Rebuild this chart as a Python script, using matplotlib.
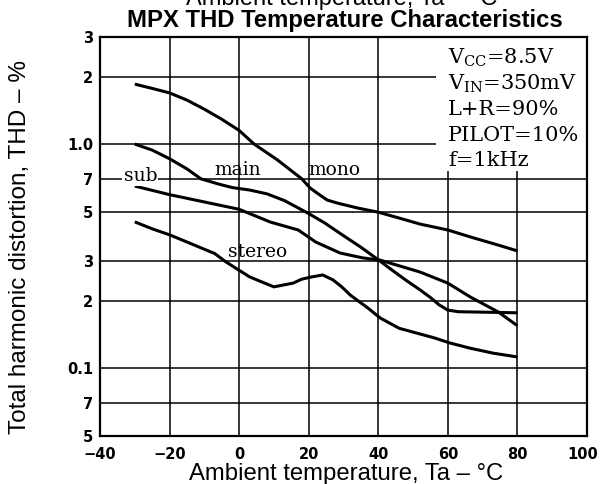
import matplotlib
matplotlib.use("Agg")
import matplotlib.pyplot as plt
from matplotlib.ticker import FixedLocator, NullLocator
from matplotlib.patches import Rectangle
from matplotlib.transforms import ScaledTranslation

plt.rcParams['mathtext.fontset'] = 'dejavuserif'

# THD (%) versus ambient temperature (°C) for each decoder mode
mono_t = [-30, -25, -20, -15, -10, -5, 0, 4.3, 11, 18, 20.4, 22.4, 25.3, 28.2, 34, 40, 46, 52, 60, 66.6, 74.4, 80]
mono_thd = [1.85, 1.77, 1.69, 1.57, 1.43, 1.29, 1.15, 1.0, 0.85, 0.70, 0.637, 0.605, 0.563, 0.546, 0.519, 0.497, 0.468, 0.44, 0.414, 0.385, 0.355, 0.334]

main_t = [-30, -25, -20, -15, -11, -6, -2, 3, 8, 13, 16.5, 20, 24.6, 29, 35, 40, 44, 48, 52, 55, 57.5, 60, 63, 80]
main_thd = [1.0, 0.94, 0.86, 0.775, 0.70, 0.664, 0.64, 0.624, 0.60, 0.56, 0.524, 0.49, 0.445, 0.40, 0.347, 0.305, 0.274, 0.247, 0.224, 0.207, 0.192, 0.182, 0.179, 0.177]

sub_t = [-30, -20, -10, 0, 9, 17, 22, 29, 35.5, 40.5, 52, 60, 66.5, 74.5, 80]
sub_thd = [0.65, 0.595, 0.552, 0.512, 0.449, 0.414, 0.366, 0.327, 0.311, 0.304, 0.269, 0.240, 0.208, 0.1785, 0.155]

stereo_t = [-30, -25, -20, -15, -7, -4, -1, 3, 6.5, 10, 15.5, 18, 21, 24, 27, 29.5, 32, 37, 40.5, 46, 56, 60.5, 66.5, 73, 80]
stereo_thd = [0.45, 0.419, 0.394, 0.366, 0.325, 0.30, 0.28, 0.256, 0.243, 0.231, 0.240, 0.25, 0.256, 0.261, 0.248, 0.231, 0.212, 0.186, 0.168, 0.151, 0.137, 0.130, 0.123, 0.117, 0.1125]

x_ticks = [-40, -20, 0, 20, 40, 60, 80, 100]
x_tick_labels = ['\u221240', '\u221220', '0', '20', '40', '60', '80', '100']
y_ticks = [0.05, 0.07, 0.1, 0.2, 0.3, 0.5, 0.7, 1.0, 2.0, 3.0]
y_tick_labels = ['5', '7', '0.1', '2', '3', '5', '7', '1.0', '2', '3']

conditions = ['V$_{\\mathrm{CC}}$=8.5V', 'V$_{\\mathrm{IN}}$=350mV', 'L+R=90%',
              'PILOT=10%', 'f=1kHz']

W, H = 601, 484
fig = plt.figure(figsize=(W / 100, H / 100), dpi=100)
ax = fig.add_axes([100 / W, 1 - 436 / H, 487 / W, 399 / H])

ax.set_yscale('log')
ax.set_xlim(-40, 100)
ax.set_ylim(0.05, 3.0)

ax.xaxis.set_major_locator(FixedLocator(x_ticks))
ax.set_xticklabels(x_tick_labels)
ax.yaxis.set_major_locator(FixedLocator(y_ticks))
ax.yaxis.set_minor_locator(NullLocator())
ax.set_yticklabels(y_tick_labels)

for lbl in ax.get_xticklabels() + ax.get_yticklabels():
    lbl.set_fontfamily('DejaVu Sans')
    lbl.set_fontweight('bold')
    lbl.set_fontsize(10.5)
ax.tick_params(axis='x', length=0, pad=8)
ax.tick_params(axis='y', length=0, pad=5)
# keep the last temperature label inside the canvas
last = ax.get_xticklabels()[-1]
last.set_transform(last.get_transform() + ScaledTranslation(-4 / 100, 0, fig.dpi_scale_trans))

ax.grid(True, color='black', linewidth=1.1)
ax.set_axisbelow(True)
for s in ax.spines.values():
    s.set_linewidth(1.6)

# blank panel behind the test conditions
ax.add_patch(Rectangle((56.5, 0.76), 43.5, 2.24, facecolor='white',
                       edgecolor='none', zorder=1.5))

for t, v in [(mono_t, mono_thd), (main_t, main_thd), (sub_t, sub_thd), (stereo_t, stereo_thd)]:
    ax.plot(t, v, color='black', linewidth=2.2, solid_capstyle='butt',
            solid_joinstyle='round', zorder=3)

serif = dict(family='DejaVu Serif', fontsize=13.5, color='black', zorder=4)
ax.text(-28.4, 0.72, 'sub', ha='center', va='center',
        bbox=dict(facecolor='white', edgecolor='none', pad=1), **serif)
ax.text(-0.3, 0.765, 'main', ha='center', va='center', **serif)
ax.text(27.3, 0.765, 'mono', ha='center', va='center', **serif)
ax.text(5.2, 0.329, 'stereo', ha='center', va='center', **serif)

for i, line in enumerate(conditions):
    fig.text(448 / W, 1 - (64 + 25.6 * i) / H, line, ha='left', va='baseline',
             family='DejaVu Serif', fontsize=15)

sans = 'Liberation Sans'
fig.text(342 / W, 1 - 5 / H, 'Ambient temperature, Ta \u2013 \u00b0C', ha='center',
         va='baseline', family=sans, fontsize=17)
fig.text(345 / W, 1 - 21 / H, 'MPX THD Temperature Characteristics', ha='center',
         va='center', family=sans, fontsize=17.2, fontweight='bold')
fig.text(346 / W, 1 - 480 / H, 'Ambient temperature, Ta \u2013 \u00b0C', ha='center',
         va='baseline', family=sans, fontsize=17.2)
fig.text(20 / W, 1 - 247 / H, 'Total harmonic distortion, THD \u2013 %', ha='center',
         va='center', rotation=90, family=sans, fontsize=17.5)

fig.savefig('out.png', dpi=100)
